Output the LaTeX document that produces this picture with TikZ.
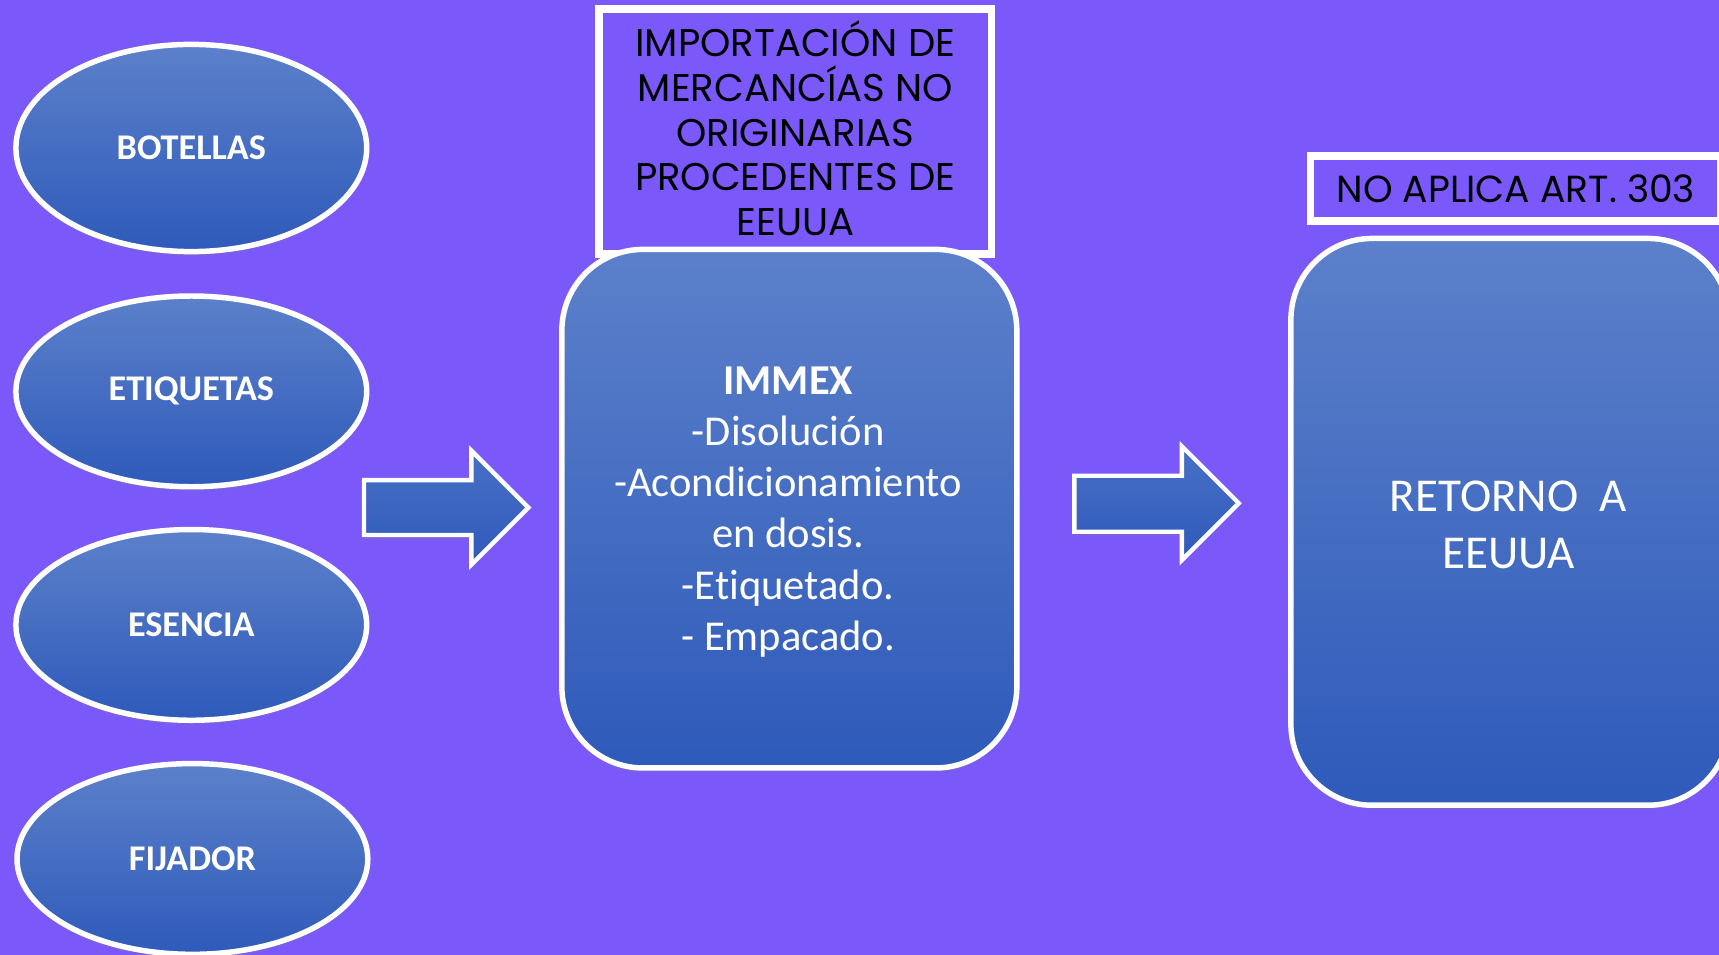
\documentclass[tikz,border=0pt]{standalone}
\usepackage{fontspec}
\setmainfont{Carlito}[Ligatures=NoCommon]
\newfontfamily\gothic{Poppins}
\usetikzlibrary{shapes.geometric,shadows}
\definecolor{bgpurple}{RGB}{122,88,250}
\definecolor{shtop}{RGB}{92,128,202}
\definecolor{shbot}{RGB}{46,90,186}
\definecolor{arrtop}{RGB}{72,112,198}
\tikzset{
  oval/.style={ellipse, draw=white, line width=2.5pt, top color=shtop, bottom color=shbot,
    minimum width=160pt, minimum height=87pt, text=white,
    font=\bfseries\fontsize{16.5}{20}\selectfont,
    drop shadow={opacity=0.25, shadow xshift=0pt, shadow yshift=-2pt}},
  roundbox/.style={rectangle, rounded corners=37pt, draw=white, line width=2.5pt,
    top color=shtop, bottom color=shbot, text=white, align=center,
    drop shadow={opacity=0.25, shadow xshift=0pt, shadow yshift=-2pt}},
  framebox/.style={rectangle, draw=white, line width=3.5pt, fill=bgpurple, text=black,
    align=center, font=\gothic\fontsize{17.6}{20.5}\selectfont},
  blockarrow/.style={draw=white, line width=2pt, top color=arrtop, bottom color=shbot,
    line join=miter,
    drop shadow={opacity=0.25, shadow xshift=0pt, shadow yshift=-2pt}}
}
\begin{document}
\begin{tikzpicture}[x=0.5pt,y=0.5pt]
\useasboundingbox (0,-871) rectangle (1568,0);
\clip (0,-871) rectangle (1568,0);
\fill[bgpurple] (0,-871) rectangle (1568,0);

% left ovals
\node[oval, minimum height=94.5pt] (botellas) at (174.5,-135) {BOTELLAS};
\node[oval] (etiquetas) at (174.5,-357) {ETIQUETAS};
\node[oval] (esencia) at (174.5,-570) {ESENCIA};
\node[oval] (fijador) at (175.5,-783.5) {FIJADOR};

% title frame above IMMEX
\node[framebox, minimum width=179pt, minimum height=111.5pt] (titulo) at (725.5,-120) {};
\node[font=\gothic\fontsize{17.6}{20.5}\selectfont, align=center, text=black] (titulotxt)
  at (725.5,-117) {IMPORTACIÓN DE\\MERCANCÍAS NO\\ORIGINARIAS\\PROCEDENTES DE\\EEUUA};

% IMMEX box
\node[roundbox, minimum width=207.5pt, minimum height=236.5pt] (immex) at (720,-464) {};
\node[text=white, align=center, font=\fontsize{19.4}{23.35}\selectfont] (immextxt)
  at (719,-467)
  {\textbf{IMMEX}\\-Disolución\\-Acondicionamiento\\en dosis.\\-Etiquetado.\\- Empacado.};

% NO APLICA frame
\node[framebox, minimum width=187.25pt, minimum height=29.5pt,
  font=\gothic\fontsize{17.2}{20}\selectfont] (noaplica) at (1382.75,-172)
  {NO APLICA ART. 303};

% RETORNO box
\node[roundbox, minimum width=200pt, minimum height=258.5pt] (retorno) at (1377.5,-476) {};
\node[text=white, align=center, font=\fontsize{21.5}{26}\selectfont] (retornotxt)
  at (1376,-479) {RETORNO\ \ A\\EEUUA};

% block arrows
\path[blockarrow] (332,-438) -- (430,-438) -- (430,-411) -- (482,-463) -- (430,-515)
  -- (430,-488) -- (332,-488) -- cycle;
\path[blockarrow] (980,-434) -- (1078,-434) -- (1078,-407) -- (1130,-459) -- (1078,-511)
  -- (1078,-485) -- (980,-485) -- cycle;
\end{tikzpicture}
\end{document}
